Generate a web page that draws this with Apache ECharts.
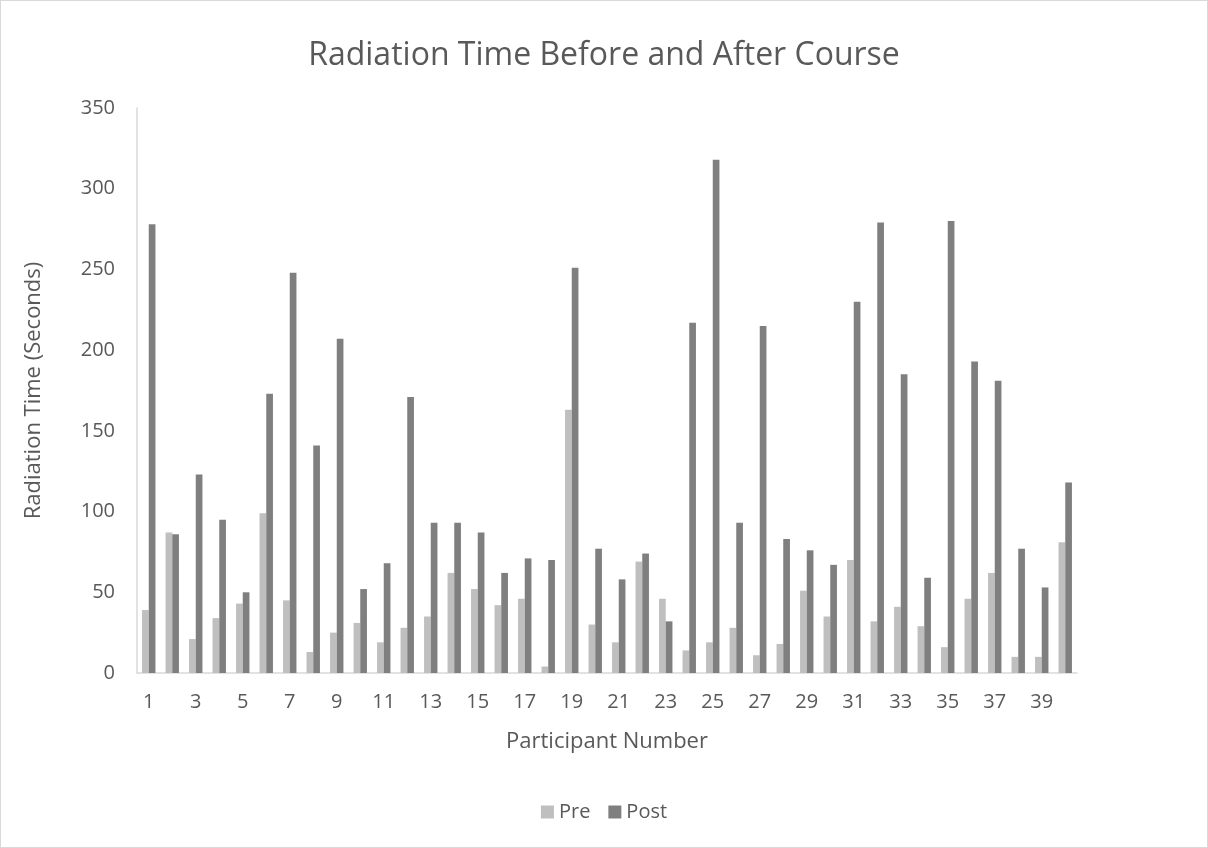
<!DOCTYPE html>
<html>
<head>
    <meta charset="utf-8">
    <title>Radiation Time</title>
    <script src="https://cdn.jsdelivr.net/npm/echarts@6/dist/echarts.min.js"></script>
    <style type="text/css">
        body{margin:0;background:#fff;}
        #main{width:1206px;height:846px;border:1px solid #d9d9d9;}
    </style>
</head>
<body>
    <div id="main"></div>
    <script type="text/javascript">
        // participant numbers 1..40
        var participants = ['1','2','3','4','5','6','7','8','9','10','11','12','13','14','15','16','17','18','19','20',
                            '21','22','23','24','25','26','27','28','29','30','31','32','33','34','35','36','37','38','39','40'];
        // radiation time (seconds) before the course
        var preTimes = [39,87,21,34,43,99,45,13,25,31,19,28,35,62,52,42,46,4,163,30,
                        19,69,46,14,19,28,11,18,51,35,70,32,41,29,16,46,62,10,10,81];
        // radiation time (seconds) after the course
        var postTimes = [278,86,123,95,50,173,248,141,207,52,68,171,93,93,87,62,71,70,251,77,
                         58,74,32,217,318,93,215,83,76,67,230,279,185,59,280,193,181,77,53,118];
        var yTicks = [0,50,100,150,200,250,300,350];

        var font = '"Open Sans", "Noto Sans", sans-serif';
        var myChart = echarts.init(document.getElementById('main'));
        var option = {
            textStyle: {fontFamily: font},
            title: {
                text: 'Radiation Time Before and After Course',
                left: 'center',
                top: 34,
                textStyle: {fontFamily: font, fontSize: 32, fontWeight: 'normal', color: '#595959'}
            },
            legend: {
                data: ['Pre', 'Post'],
                bottom: 20,
                left: 'center',
                icon: 'rect',
                itemWidth: 13,
                itemHeight: 13,
                itemGap: 18,
                textStyle: {fontFamily: font, fontSize: 20, color: '#595959'}
            },
            grid: {left: 136, right: 130, top: 107, bottom: 174},
            xAxis: {
                type: 'category',
                data: participants,
                name: 'Participant Number',
                nameLocation: 'middle',
                nameGap: 58,
                nameTextStyle: {fontFamily: font, fontSize: 22, color: '#595959'},
                axisLine: {lineStyle: {color: '#d9d9d9', width: 1.5}},
                axisTick: {show: false},
                axisLabel: {interval: 1, margin: 19, fontFamily: font, fontSize: 20, color: '#595959'}
            },
            yAxis: {
                type: 'value',
                min: yTicks[0],
                max: yTicks[yTicks.length - 1],
                interval: 50,
                name: 'Radiation Time (Seconds)',
                nameLocation: 'middle',
                nameGap: 92,
                nameTextStyle: {fontFamily: font, fontSize: 22, color: '#595959'},
                axisLine: {show: true, lineStyle: {color: '#d9d9d9', width: 1.5}},
                axisTick: {show: false},
                splitLine: {show: false},
                axisLabel: {margin: 22, fontFamily: font, fontSize: 20, color: '#595959'}
            },
            series: [
                {
                    name: 'Pre',
                    type: 'bar',
                    data: preTimes,
                    barGap: '0%',
                    barCategoryGap: '43%',
                    itemStyle: {color: '#bfbfbf'}
                },
                {
                    name: 'Post',
                    type: 'bar',
                    data: postTimes,
                    barGap: '0%',
                    barCategoryGap: '43%',
                    itemStyle: {color: '#7f7f7f'}
                }
            ]
        };
        myChart.setOption(option);
    </script>
</body>
</html>
